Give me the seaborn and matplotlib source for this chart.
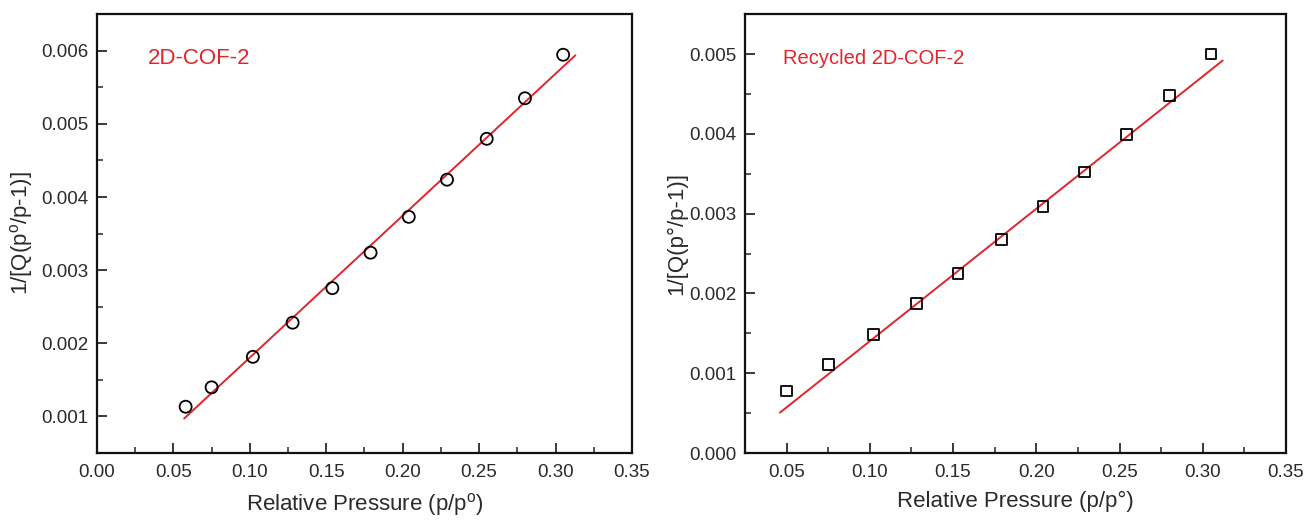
import numpy as np
import pandas as pd
import seaborn as sns
import matplotlib
matplotlib.use("Agg")
import matplotlib.pyplot as plt
from matplotlib.ticker import MultipleLocator, FormatStrFormatter

# ---- data ----
p_fresh = [0.058, 0.075, 0.102, 0.128, 0.154, 0.179, 0.204, 0.229, 0.255, 0.280, 0.305]
bet_fresh = [0.001133, 0.001398, 0.001815, 0.002282, 0.002754, 0.003239,
             0.003729, 0.004237, 0.004796, 0.005350, 0.005945]
fit_fresh_slope = 0.01940
fit_fresh_intercept = -0.000135
fit_fresh_range = [0.057, 0.313]

p_recycled = [0.050, 0.075, 0.102, 0.128, 0.153, 0.179, 0.204, 0.229, 0.254, 0.280, 0.305]
bet_recycled = [0.000778, 0.001105, 0.001485, 0.001870, 0.002247, 0.002674,
                0.003092, 0.003523, 0.003996, 0.004481, 0.005000]
fit_rec_slope = 0.01659
fit_rec_intercept = -0.000257
fit_rec_range = [0.046, 0.312]

label_fresh = "2D-COF-2"
label_recycled = "Recycled 2D-COF-2"
xlabel_fresh = "Relative Pressure (p/p$^{\\mathregular{o}}$)"
xlabel_rec = "Relative Pressure (p/p°)"
ylabel_fresh = "1/[Q(p$^{\\mathregular{o}}$/p-1)]"
ylabel_rec = "1/[Q(p°/p-1)]"

# ---- style ----
sns.set_theme(style="ticks")
plt.rcParams['font.family'] = ['Liberation Sans', 'DejaVu Sans']
plt.rcParams['mathtext.fontset'] = 'custom'
plt.rcParams['mathtext.rm'] = 'Liberation Sans'
text_col = "#2a2a2a"
red = "#e0252b"

fig = plt.figure(figsize=(13.07, 5.20), dpi=100)
ax1 = fig.add_axes([0.0742, 0.1288, 0.4093, 0.844])
ax2 = fig.add_axes([0.5700, 0.1288, 0.4139, 0.844])

def draw(ax, x, y, slope, intercept, rng, marker, ms, label, lab_fs, lab_x,
         xlab, ylab, xlim, ylim, ylabx):
    df = pd.DataFrame({"x": x, "y": y})
    fx = np.array(rng)
    fit_df = pd.DataFrame({"x": fx, "y": slope * fx + intercept})
    sns.lineplot(data=fit_df, x="x", y="y", ax=ax, color=red, lw=1.4, zorder=2)
    sns.scatterplot(data=df, x="x", y="y", ax=ax, marker=marker, s=ms,
                    facecolors="none", edgecolor="black", linewidth=1.3, zorder=3)
    ax.set_xlim(*xlim)
    ax.set_ylim(*ylim)
    ax.xaxis.set_major_locator(MultipleLocator(0.05))
    ax.xaxis.set_minor_locator(MultipleLocator(0.025))
    ax.xaxis.set_major_formatter(FormatStrFormatter("%.2f"))
    ax.yaxis.set_major_locator(MultipleLocator(0.001))
    ax.yaxis.set_minor_locator(MultipleLocator(0.0005))
    ax.yaxis.set_major_formatter(FormatStrFormatter("%.3f"))
    ax.tick_params(which="major", direction="in", length=7, width=1.3,
                   labelsize=13.5, colors=text_col, pad=8)
    ax.tick_params(which="minor", direction="in", length=4, width=1.1)
    ax.tick_params(axis="y", which="major", pad=6)
    for s in ax.spines.values():
        s.set_linewidth(1.6)
        s.set_color("#111111")
    ax.set_xlabel(xlab, fontsize=16, color=text_col, labelpad=7)
    ax.set_ylabel(ylab, fontsize=16, color=text_col)
    ax.yaxis.set_label_coords(ylabx, 0.5)
    ax.text(lab_x, 0.90, label, transform=ax.transAxes, color=red,
            fontsize=lab_fs, va="center", ha="left")

draw(ax1, p_fresh, bet_fresh, fit_fresh_slope, fit_fresh_intercept, fit_fresh_range,
     "o", 75, label_fresh, 16, 0.095, xlabel_fresh, ylabel_fresh,
     (0.0, 0.35), (0.0005, 0.0065), -0.115)
draw(ax2, p_recycled, bet_recycled, fit_rec_slope, fit_rec_intercept, fit_rec_range,
     "s", 60, label_recycled, 14.5, 0.070, xlabel_rec, ylabel_rec,
     (0.025, 0.35), (0.0, 0.0055), -0.107)

fig.savefig("out.png", dpi=100)
